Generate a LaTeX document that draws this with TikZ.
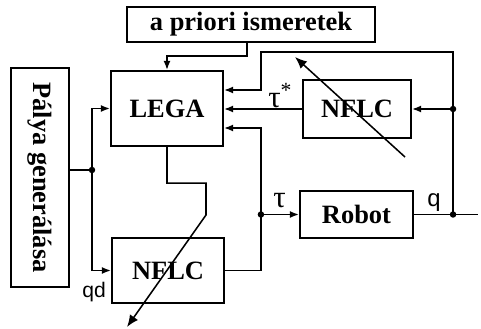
\documentclass[tikz,border=0pt]{standalone}
\usepackage{fontspec}
\setmainfont{Liberation Serif}
\newfontfamily\arialfont{Liberation Sans}
\usetikzlibrary{arrows.meta,calc}

\begin{document}
\begin{tikzpicture}[font=\fontsize{18.8}{22}\selectfont\bfseries,
  blk/.style={draw,line width=1.5pt,inner sep=0pt,align=center},
  arr/.style={-{Latex[length=6.5pt,width=5pt]},line width=1.1pt},
  adj/.style={-{Latex[length=8.5pt,width=7pt]},line width=1.1pt},
  lbl/.style={inner sep=0pt,anchor=base west,font=\fontsize{22}{24}\selectfont},
  sfl/.style={inner sep=0pt,anchor=base west,font=\arialfont\fontsize{17}{20}\selectfont}]
\useasboundingbox (0,0) rectangle (12.025,-8.225);
\node[blk,minimum width=6.2cm,minimum height=0.875cm] (apriori) at (6.275,-0.6125) {a priori ismeretek};
\node[blk,minimum width=2.8cm,minimum height=1.875cm] (lega) at (4.175,-2.7125) {LEGA};
\node[blk,minimum width=2.7cm,minimum height=1.45cm] (nflc1) at (8.925,-2.725) {NFLC};
\node[blk,minimum width=2.825cm,minimum height=1.175cm] (robot) at (8.9125,-5.3625) {Robot};
\node[blk,minimum width=2.8cm,minimum height=1.625cm] (nflc2) at (4.2,-6.7625) {NFLC};
\node[blk,minimum width=1.45cm,minimum height=5.475cm] (palya) at (1.0,-4.4375) {\rotatebox{-90}{Pálya generálása}};
% junctions and bends
\coordinate (pj) at (2.3,-4.25);
\coordinate (tj) at ([xshift=-0.95cm]robot.west);
\coordinate (qj) at ([xshift=0.975cm]robot.east);
\coordinate (qout) at ([xshift=1.6cm]robot.east);
\coordinate (fj) at (qj |- nflc1.east);
\coordinate (top) at (tj |- 0,-1.3);
\coordinate (lb) at (5.15,-5.375);
\coordinate (ltip) at (3.175,-8.175);
\coordinate (ntail) at (10.125,-3.925);
\coordinate (ntip) at (7.375,-1.425);
% connectors
\draw[arr] ([xshift=-0.1cm]apriori.south) |- ([yshift=0.35cm]lega.north) -- (lega.north);
\draw[line width=1.1pt] (palya.east |- pj) -- (pj);
\draw[arr] (pj) |- (lega.west);
\draw[arr] (pj) |- (nflc2.west);
\draw[arr] (nflc1.west) -- (lega.east |- nflc1.west);
\draw[arr] (qj) |- (top) |- ([yshift=0.4625cm]lega.east);
\draw[arr] (fj) -- (nflc1.east);
\draw[arr] (nflc2.east) -| (tj) |- ([yshift=-0.4875cm]lega.east);
\draw[arr] (tj) -- (robot.west);
\draw[line width=1.1pt] (robot.east) -- (qout);
\draw[adj] (lega.south) -- ++(0,-0.9) -| (lb) -- (ltip);
\draw[adj] (ntail) -- (ntip);
\fill (pj) circle (2.3pt) (tj) circle (2.3pt) (qj) circle (2.3pt) (fj) circle (2.3pt);
% labels
\node[lbl] (taus) at (6.7,-2.7) {τ\textsuperscript{*}};
\node[lbl] (tau) at (6.825,-5.2) {τ};
\node[sfl] (q) at (10.675,-5.17) {q};
\node[sfl,font=\arialfont\fontsize{15}{18}\selectfont] (qd) at (2.05,-7.425) {qd};
\end{tikzpicture}
\end{document}
